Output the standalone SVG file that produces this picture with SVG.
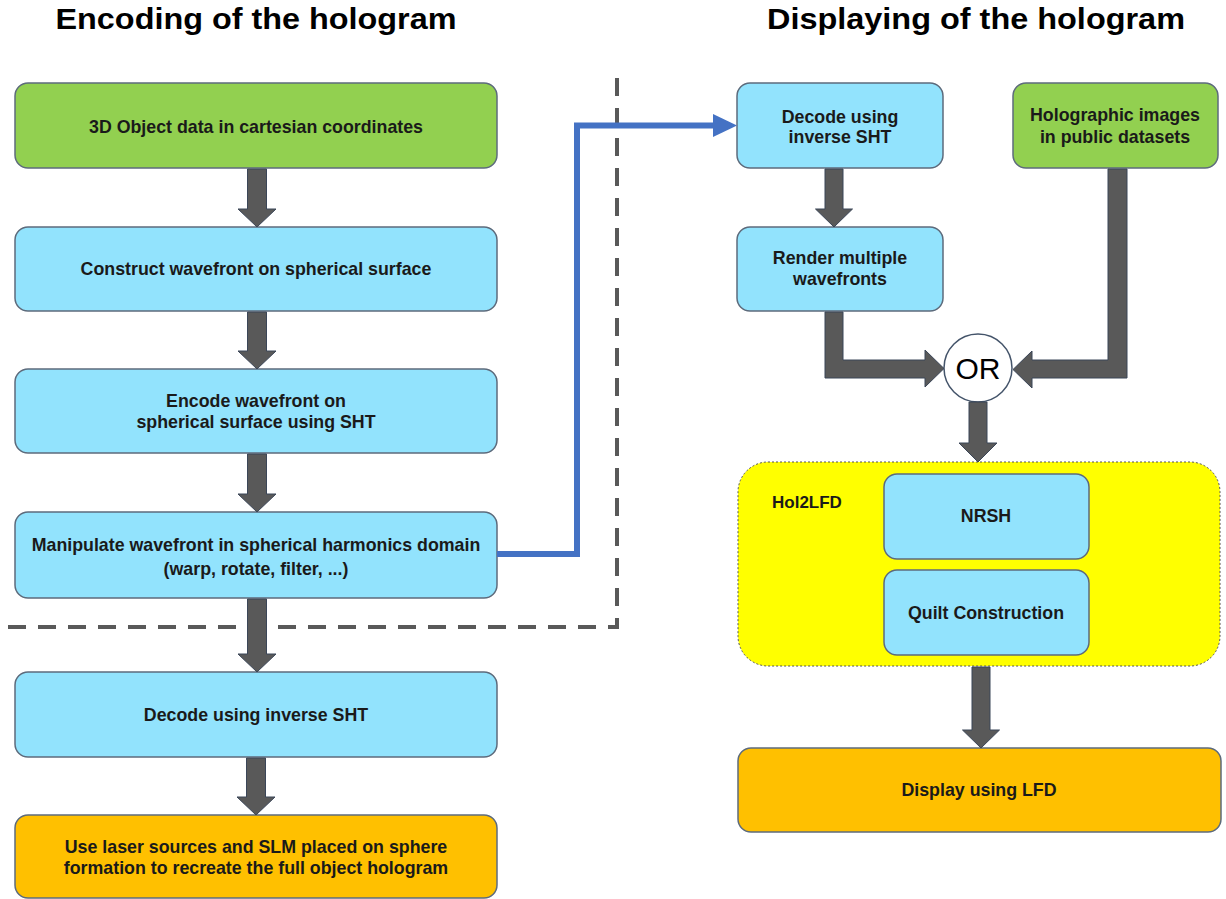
<svg xmlns="http://www.w3.org/2000/svg" width="1226" height="899" viewBox="0 0 1226 899">
<style>
.box{stroke:#5d6b7c;stroke-width:1.5}
.green{fill:#92D050}
.cyan{fill:#92E3FD}
.orange{fill:#FFC000}
.t{font-family:"Liberation Sans",Arial,sans-serif;font-weight:bold;font-size:17.8px;fill:#1a1a1a;text-anchor:middle}
.title{font-family:"Liberation Sans",Arial,sans-serif;font-weight:bold;font-size:29px;fill:#000;text-anchor:middle}
.blk{fill:#595959;stroke:#3b4658;stroke-width:1}
.dash{fill:none;stroke:#595959;stroke-width:4;stroke-dasharray:18 12}
</style>
<rect width="1226" height="899" fill="#fff"/>
<g id="titles">
<text class="title" x="256" y="29" textLength="401" lengthAdjust="spacingAndGlyphs">Encoding of the hologram</text>
<text class="title" x="976" y="29" textLength="418" lengthAdjust="spacingAndGlyphs">Displaying of the hologram</text>
</g>
<g id="separator">
<path class="dash" d="M8 627 H617 V70"/>
</g>
<g id="n1"><rect class="box green" x="15" y="83" width="482" height="85" rx="13"/><text class="t" x="256" y="133">3D Object data in cartesian coordinates</text></g>
<g id="n2"><rect class="box cyan" x="15" y="227" width="482" height="84" rx="13"/><text class="t" x="256" y="275">Construct wavefront on spherical surface</text></g>
<g id="n3"><rect class="box cyan" x="15" y="369" width="482" height="84" rx="13"/><text class="t" x="256" y="407">Encode wavefront on</text><text class="t" x="256" y="428">spherical surface using SHT</text></g>
<g id="n4"><rect class="box cyan" x="15" y="512" width="482" height="86" rx="13"/><text class="t" x="256" y="551">Manipulate wavefront in spherical harmonics domain</text><text class="t" x="256" y="575">(warp, rotate, filter, ...)</text></g>
<g id="n5"><rect class="box cyan" x="15" y="672" width="482" height="85" rx="13"/><text class="t" x="256" y="721">Decode using inverse SHT</text></g>
<g id="n6"><rect class="box orange" x="15" y="815" width="482" height="83" rx="13"/><text class="t" x="256" y="853">Use laser sources and SLM placed on sphere</text><text class="t" x="256" y="874">formation to recreate the full object hologram</text></g>
<g id="r1"><rect class="box cyan" x="737" y="83" width="206" height="85" rx="13"/><text class="t" x="840" y="123">Decode using</text><text class="t" x="840" y="143">inverse SHT</text></g>
<g id="r2"><rect class="box cyan" x="737" y="227" width="206" height="84" rx="13"/><text class="t" x="840" y="264">Render multiple</text><text class="t" x="840" y="285">wavefronts</text></g>
<g id="r3"><rect class="box green" x="1013" y="83" width="205" height="85" rx="13"/><text class="t" x="1115" y="121">Holographic images</text><text class="t" x="1115" y="143">in public datasets</text></g>
<g id="or"><circle cx="978" cy="368" r="34" fill="#fff" stroke="#44546A" stroke-width="1.5"/><text x="978" y="379" font-family="'Liberation Sans',Arial,sans-serif" font-size="30" text-anchor="middle" fill="#000">OR</text></g>
<g id="hol2lfd">
<rect x="738" y="462" width="482" height="204" rx="30" fill="#FFFF00" stroke="#555" stroke-width="1" stroke-dasharray="2 2"/>
<text x="772" y="508" font-family="'Liberation Sans',Arial,sans-serif" font-weight="bold" font-size="17" fill="#1a1a1a">Hol2LFD</text>
</g>
<g id="nrsh"><rect class="box cyan" x="884" y="474" width="205" height="85" rx="13"/><text class="t" x="986" y="522">NRSH</text></g>
<g id="quilt"><rect class="box cyan" x="884" y="570" width="205" height="85" rx="13"/><text class="t" x="986" y="619">Quilt Construction</text></g>
<g id="display"><rect class="box orange" x="738" y="748" width="483" height="84" rx="13"/><text class="t" x="979" y="796">Display using LFD</text></g>
<g id="connectors">
<polygon class="blk" points="247.5,169 266.5,169 266.5,209 276,209 257,227 238,209 247.5,209"/>
<polygon class="blk" points="247.5,312 266.5,312 266.5,351 276,351 257,369 238,351 247.5,351"/>
<polygon class="blk" points="247.5,454 266.5,454 266.5,494 276,494 257,512 238,494 247.5,494"/>
<polygon class="blk" points="247.5,599 266.5,599 266.5,654 276,654 257,672 238,654 247.5,654"/>
<polygon class="blk" points="246.5,758 265.5,758 265.5,797 275,797 256,815 237,797 246.5,797"/>
<polygon class="blk" points="825,169 843,169 843,209 852.5,209 834,227 815.5,209 825,209"/>
<polygon class="blk" points="825,312 843,312 843,360 925,360 925,350 944,368.5 925,387 925,378 825,378"/>
<polygon class="blk" points="1108,169 1127,169 1127,378 1032,378 1032,388 1013,369.5 1032,351 1032,360 1108,360"/>
<polygon class="blk" points="969,402 987,402 987,443 997,443 978,462 959,443 969,443"/>
<polygon class="blk" points="972,667 990,667 990,730 999.5,730 981,748 962.5,730 972,730"/>
<polyline points="497,554 577,554 577,125.5 714,125.5" fill="none" stroke="#4472C4" stroke-width="6"/>
<polygon points="713,114 737,125.5 713,137" fill="#4472C4"/>
</g>
</svg>
